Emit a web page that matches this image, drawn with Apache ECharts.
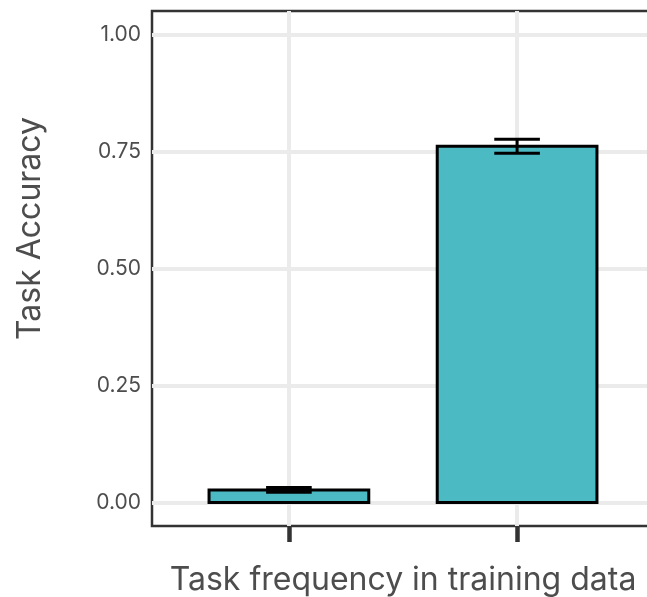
<!DOCTYPE html>
<html><head><meta charset="utf-8">
<script src="https://cdn.jsdelivr.net/npm/echarts@6/dist/echarts.min.js"></script>
<style>html,body{margin:0;padding:0;background:#fff}#c{width:647px;height:597px}</style>
</head><body><div id="c"></div>
<script>
// ---- data ----
const categories = [1, 2];               // positions of the two (unlabelled) groups
const accuracy = [0.027, 0.761];         // mean task accuracy
const errLow = [0.022, 0.746];           // lower error bound
const errHigh = [0.032, 0.776];          // upper error bound
const yTicks = [0, 0.25, 0.5, 0.75, 1];
const xLimits = [0.4, 2.6];
const yLimits = [-0.05, 1.05];
const xTitle = 'Task frequency in training data';
const yTitle = 'Task Accuracy';

const FONT = 'Inter';
const barData = categories.map((c, i) => [c, accuracy[i]]);
const errData = categories.map((c, i) => [c, errLow[i], errHigh[i]]);

const chart = echarts.init(document.getElementById('c'), null, {renderer: 'canvas'});
chart.setOption({
  animation: false,
  backgroundColor: '#fff',
  grid: {left: 152, top: 11, width: 502, height: 515, show: true,
         containLabel: false, outerBoundsMode: 'none',
         borderColor: '#333333', borderWidth: 2.5, backgroundColor: 'transparent'},
  xAxis: {
    type: 'value', min: xLimits[0], max: xLimits[1],
    axisLine: {show: false, onZero: false},
    axisTick: {show: true, inside: false, customValues: categories, length: 16,
               lineStyle: {color: '#333333', width: 4.5}},
    axisLabel: {show: true, customValues: categories, formatter: () => ''},
    splitLine: {show: true, lineStyle: {color: '#EBEBEB', width: 4}},
    name: xTitle, nameLocation: 'middle', nameGap: 38,
    nameTextStyle: {fontFamily: FONT, fontSize: 32, color: '#4D4D4D'}
  },
  yAxis: {
    type: 'value', min: yLimits[0], max: yLimits[1],
    axisLine: {show: false, onZero: false},
    axisTick: {show: false, customValues: yTicks},
    axisLabel: {show: true, customValues: yTicks, margin: 11,
                formatter: v => v.toFixed(2),
                fontFamily: FONT, fontSize: 21, color: '#4D4D4D'},
    splitLine: {show: true, lineStyle: {color: '#EBEBEB', width: 4}},
    name: yTitle, nameLocation: 'middle', nameGap: 106, nameRotate: 90,
    nameTextStyle: {fontFamily: FONT, fontSize: 32, color: '#4D4D4D', padding: [0, 0, 0, 80]}
  },
  series: [
    {
      type: 'custom', name: 'bars', data: barData, z: 3,
      renderItem: function (params, api) {
        const x = api.value(0), y = api.value(1);
        const p0 = api.coord([x - 0.35, 0]);
        const p1 = api.coord([x + 0.35, y]);
        return {type: 'rect',
          shape: {x: p0[0], y: p1[1], width: p1[0] - p0[0], height: p0[1] - p1[1]},
          style: {fill: '#4BBAC3', stroke: '#000', lineWidth: 3}};
      }
    },
    {
      type: 'custom', name: 'errors', data: errData, z: 4,
      renderItem: function (params, api) {
        const x = api.value(0), lo = api.value(1), hi = api.value(2);
        const a = api.coord([x - 0.1, lo]), b = api.coord([x + 0.1, hi]);
        const m = api.coord([x, lo]), n = api.coord([x, hi]);
        const st = {stroke: '#000', lineWidth: 3};
        return {type: 'group', children: [
          {type: 'line', shape: {x1: a[0], y1: a[1], x2: b[0], y2: a[1]}, style: st},
          {type: 'line', shape: {x1: a[0], y1: b[1], x2: b[0], y2: b[1]}, style: st},
          {type: 'line', shape: {x1: m[0], y1: m[1], x2: n[0], y2: n[1]}, style: st}
        ]};
      }
    }
  ]
});
</script></body></html>
